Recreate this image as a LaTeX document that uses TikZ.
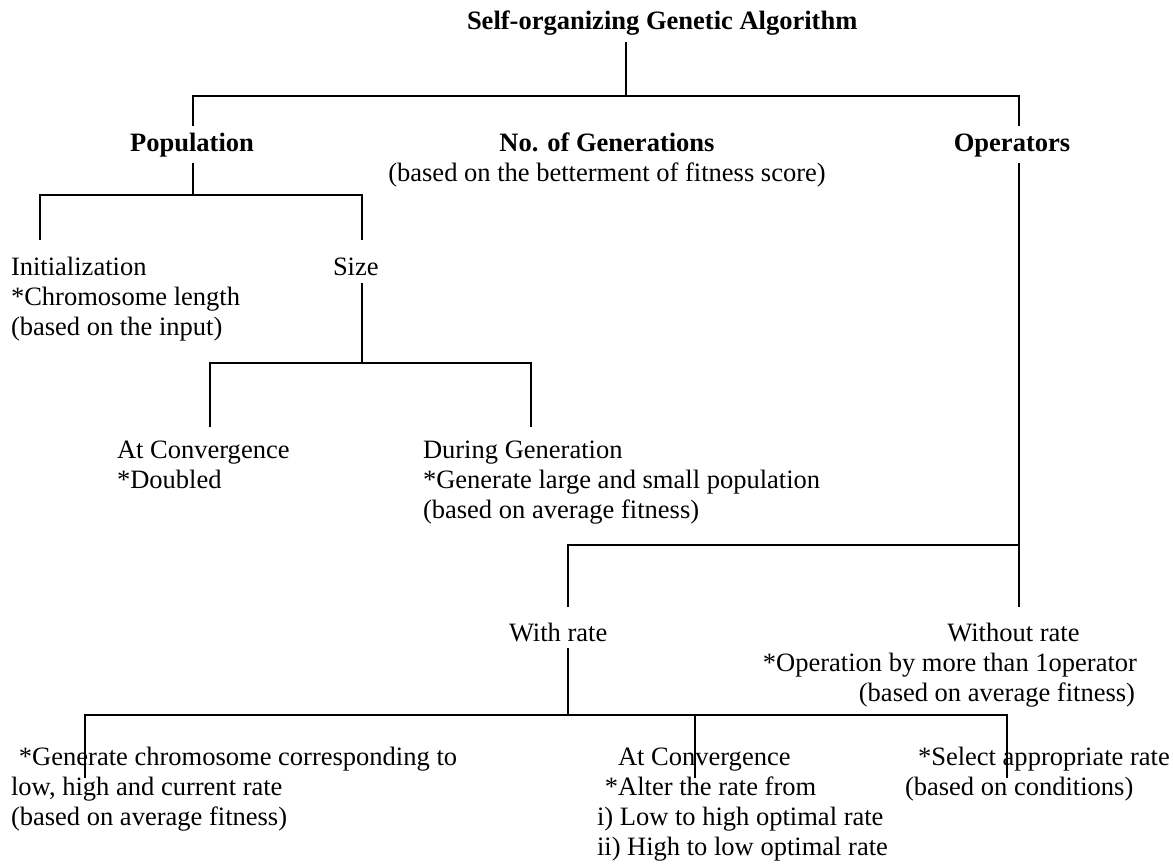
\documentclass[tikz,border=0pt]{standalone}
\usepackage{fontspec}
\setmainfont{Liberation Serif}
\begin{document}
\begin{tikzpicture}[x=0.4525pt,y=-0.4525pt,
  every node/.style={inner sep=0pt,outer sep=0pt,font=\fontsize{12}{13.6}\selectfont},
  lbl/.style={anchor=north west,align=left},
  wire/.style={line width=0.9pt,line join=miter}]
\useasboundingbox (0,0) rectangle (1173,863);
% text nodes
\node[anchor=base west,font=\fontsize{12}{13.6}\selectfont\bfseries] (title) at (467,29) {Self-organizing Genetic Algorithm};
\node[anchor=base,font=\fontsize{12}{13.6}\selectfont\bfseries] (pop) at (192,151) {Population};
\node[anchor=north,align=center] (nogen) at (607,130) {\strut\textbf{No. of Generations}\\(based on the betterment of fitness score)};
\node[anchor=base,font=\fontsize{12}{13.6}\selectfont\bfseries] (ops) at (1012,151) {Operators};
\node[lbl] (init) at (11,254) {\strut Initialization\\*Chromosome length\\(based on the input)};
\node[anchor=base west] (size) at (333,275) {Size};
\node[lbl] (conv1) at (117,437) {\strut At Convergence\\*Doubled};
\node[lbl] (during) at (423,437) {\strut During Generation\\*Generate large and small population\\(based on average fitness)};
\node[anchor=base west] (withrate) at (509,641) {With rate};
\node[anchor=north east,align=right] (without) at (1137,620) {\strut Without rate\hspace*{26pt}\\*Operation by more than 1operator\\(based on average fitness)\hspace*{0.9pt}};
\node[lbl] (genchrom) at (11,744) {\strut\hspace*{3.6pt}*Generate chromosome corresponding to\\low, high and current rate\\(based on average fitness)};
\node[lbl] (conv2) at (597,744) {\strut\hspace*{9.5pt}At Convergence\\\hspace*{3.6pt}*Alter the rate from\\i) Low to high optimal rate\\ii) High to low optimal rate};
\node[lbl] (select) at (905,744) {\strut\hspace*{5.9pt}*Select appropriate rate\\(based on conditions)};
% junction coordinates
\coordinate (tA) at (626,42);
\coordinate (tB) at (626,96);
\coordinate (popTop) at (193,126);
\coordinate (opsTop) at (1019,126);
\coordinate (popBot) at (193,163);
\coordinate (popJ) at (193,195);
\coordinate (initTop) at (40,240);
\coordinate (sizeTop) at (362,240);
\coordinate (sizeBot) at (362,283);
\coordinate (sizeJ) at (362,363);
\coordinate (conv1Top) at (210,427);
\coordinate (duringTop) at (531,427);
\coordinate (opsBot) at (1019,163);
\coordinate (withoutTop) at (1019,607);
\coordinate (opsJ) at (1019,545);
\coordinate (withTop) at (568,607);
\coordinate (withBot) at (568,648);
\coordinate (withJ) at (568,715);
\coordinate (genTop) at (85,778);
\coordinate (conv2Top) at (695,778);
\coordinate (selectTop) at (1007,778);
% connectors
\draw[wire] (tA) -- (tB);
\draw[wire] (popTop) -- (popTop |- tB) -- (opsTop |- tB) -- (opsTop);
\draw[wire] (popBot) -- (popJ);
\draw[wire] (initTop) -- (initTop |- popJ) -- (sizeTop |- popJ) -- (sizeTop);
\draw[wire] (sizeBot) -- (sizeJ);
\draw[wire] (conv1Top) -- (conv1Top |- sizeJ) -- (duringTop |- sizeJ) -- (duringTop);
\draw[wire] (opsBot) -- (withoutTop);
\draw[wire] (withTop) -- (withTop |- opsJ) -- (opsJ);
\draw[wire] (withBot) -- (withJ);
\draw[wire] (genTop) -- (genTop |- withJ) -- (selectTop |- withJ) -- (selectTop);
\draw[wire] (conv2Top |- withJ) -- (conv2Top);
\end{tikzpicture}
\end{document}
